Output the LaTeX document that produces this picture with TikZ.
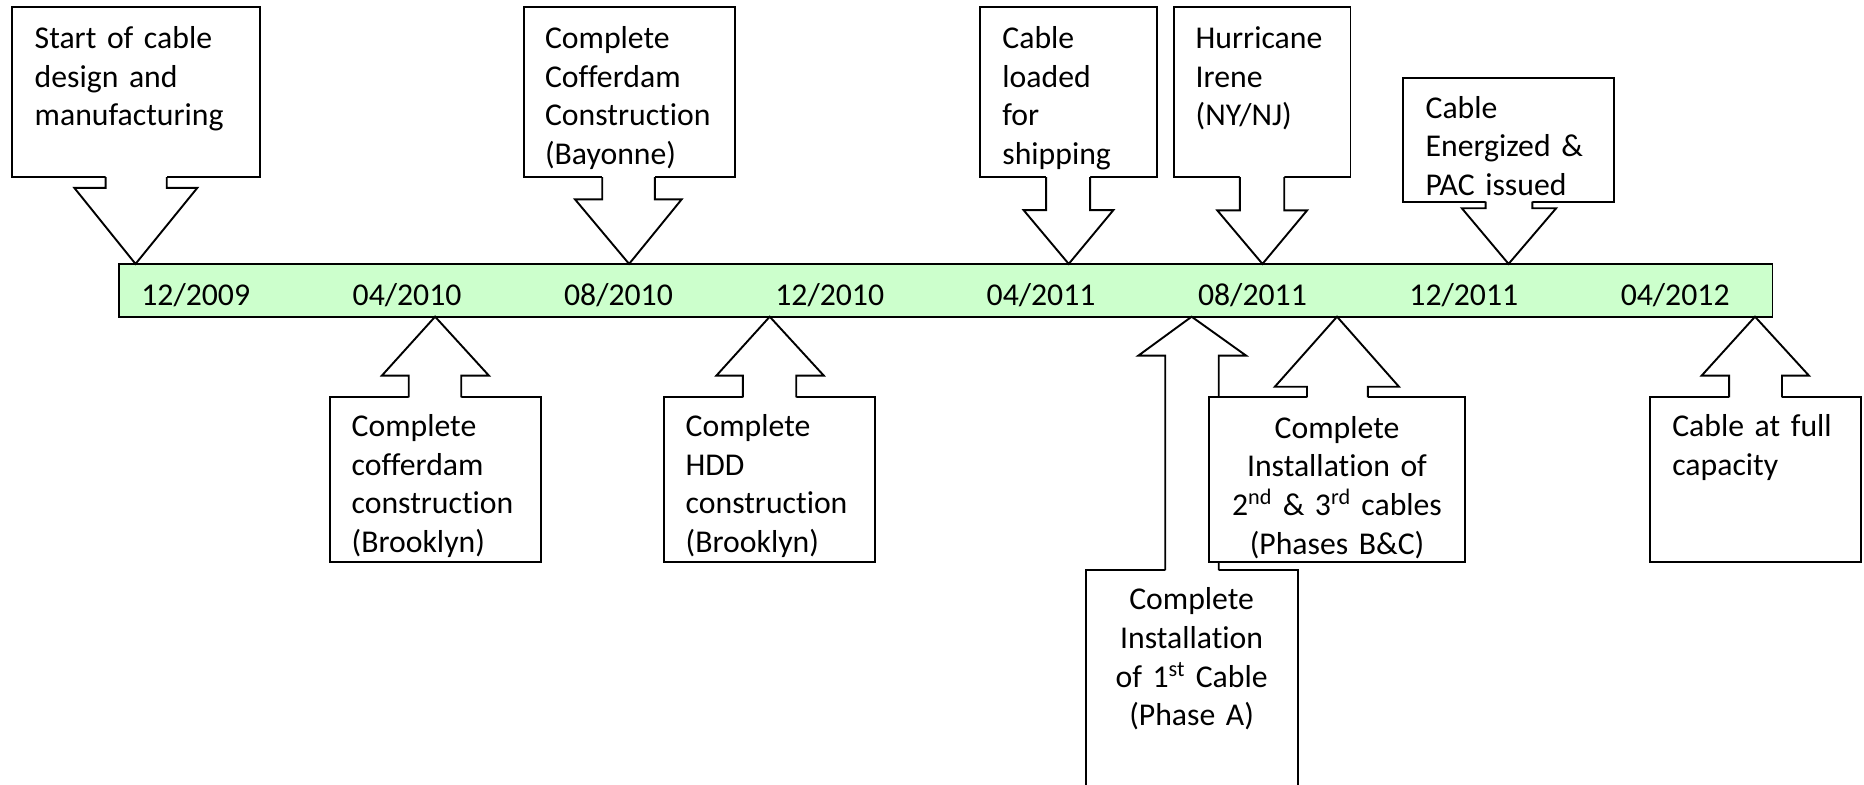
\documentclass[tikz,border=0pt]{standalone}
\usepackage{fontspec}
\setmainfont[Ligatures=NoCommon]{Carlito}
\definecolor{bargreen}{HTML}{CCFFCC}

% pointer of a callout: #1 box edge y, #2 inset y (inside the box), #3/#4 stem left/right,
% #5 y of the head base, #6/#7 head left/right, #8 tip coordinate
\newcommand{\calloutptr}[8]{%
  \fill[white] (#3,#2) -- (#3,#5) -- (#6,#5) -- (#8) -- (#7,#5) -- (#4,#5) -- (#4,#2) -- cycle;
  \draw[ptr] (#3,#1) -- (#3,#5) -- (#6,#5) -- (#8) -- (#7,#5) -- (#4,#5) -- (#4,#1);}

\begin{document}
\begin{tikzpicture}[x=1pt,y=-1pt,
  box/.style={draw, fill=white, line width=1.6pt, inner sep=0pt, outer sep=0pt, anchor=north west},
  ptr/.style={line width=1.6pt, line join=miter},
  txt/.style={font=\fontsize{26.7pt}{32.5pt}\selectfont, text width=260pt, align=left, inner sep=0pt, anchor=base west},
  ctxt/.style={txt, align=center, anchor=base},
  date/.style={font=\fontsize{26.7pt}{32pt}\selectfont, inner sep=0pt, anchor=base west}]
\useasboundingbox (0,0) rectangle (1568,660);
\clip (0,0) rectangle (1568,660);

% time bar
\node[draw, fill=bargreen, line width=1.6pt, inner sep=0pt, outer sep=0pt, anchor=north west,
      minimum width=1391pt, minimum height=44.4pt] (bar) at (100,222) {};
\node[date] (d1) at (118.7,256.6) {12/2009};
\node[date] (d2) at (296.5,256.6) {04/2010};
\node[date] (d3) at (474.3,256.6) {08/2010};
\node[date] (d4) at (652.0,256.6) {12/2010};
\node[date] (d5) at (829.8,256.6) {04/2011};
\node[date] (d6) at (1007.6,256.6) {08/2011};
\node[date] (d7) at (1185.4,256.6) {12/2011};
\node[date] (d8) at (1363.2,256.6) {04/2012};

% points on the bar the callouts aim at
\coordinate (pStart) at (114,222);
\coordinate (pBay) at (529.2,222);
\coordinate (pShip) at (899,222);
\coordinate (pIrene) at (1062,222);
\coordinate (pPAC) at (1269,222);
\coordinate (pBrook) at (366,266.4);
\coordinate (pHDD) at (647.5,266.4);
\coordinate (pPhA) at (1002.4,266.4);
\coordinate (pPhBC) at (1124.7,266.4);
\coordinate (pFull) at (1476.3,266.4);

% callouts above the bar
\node[box, minimum width=208.5pt, minimum height=143pt] (bStart) at (10,6) {};
\calloutptr{149}{146}{88.8}{140.3}{158}{62.5}{166}{pStart}
\node[box, minimum width=177.5pt, minimum height=143pt] (bBay) at (440.5,6) {};
\calloutptr{149}{146}{506.6}{550.9}{167.7}{483.7}{573.4}{pBay}
\node[box, minimum width=148.5pt, minimum height=143pt] (bShip) at (824.5,6) {};
\calloutptr{149}{146}{880}{917}{176.7}{861}{936.6}{pShip}
\node[box, minimum width=148.4pt, minimum height=143pt] (bIrene) at (987.6,6) {};
\calloutptr{149}{146}{1043}{1080.3}{177}{1024}{1099.5}{pIrene}
\node[box, minimum width=178pt, minimum height=104.3pt] (bPAC) at (1180,65.3) {};
\calloutptr{169.6}{166.6}{1249.7}{1289}{175.2}{1229.7}{1309}{pPAC}

% callouts below the bar
\node[box, minimum width=177.9pt, minimum height=138.3pt] (bBrook) at (277.3,334.2) {};
\calloutptr{334.2}{337.2}{343.8}{388}{316}{321.2}{411.3}{pBrook}
\node[box, minimum width=177.9pt, minimum height=138.3pt] (bHDD) at (558.4,334.2) {};
\calloutptr{334.2}{337.2}{624.9}{669.8}{316}{602.6}{693}{pHDD}
\node[box, minimum width=177.7pt, minimum height=138.3pt] (bFull) at (1387.7,334.2) {};
\calloutptr{334.2}{337.2}{1454.5}{1499}{316}{1431.4}{1521.7}{pFull}
\node[box, minimum width=177.8pt, minimum height=250pt] (bPhA) at (913.8,479.5) {};
\calloutptr{479.5}{482.5}{980.2}{1025.2}{299.2}{957.5}{1048.3}{pPhA}
\node[box, minimum width=215.3pt, minimum height=138.3pt] (bPhBC) at (1017.3,334.2) {};
\calloutptr{334.2}{337.2}{1099.4}{1150.6}{325.3}{1072.4}{1176.8}{pPhBC}

% callout texts
\node[txt] (tStart) at (29,40.7) {Start of cable\\design and\\manufacturing};
\node[txt] (tBay) at (458.3,40.7) {Complete\\Cofferdam\\Construction\\(Bayonne)};
\node[txt] (tShip) at (843,40.7) {Cable\\loaded\\for\\shipping};
\node[txt] (tIrene) at (1005.6,40.7) {Hurricane\\Irene\\(NY/NJ)};
\node[txt] (tPAC) at (1199,99.5) {Cable\\Energized \&\\PAC issued};
\node[txt] (tBrook) at (295.6,367.3) {Complete\\cofferdam\\construction\\(Brooklyn)};
\node[txt] (tHDD) at (576.6,367.3) {Complete\\HDD\\construction\\(Brooklyn)};
\node[ctxt] (tPhA) at (1002.4,513) {Complete\\Installation\\of 1\textsuperscript{st} Cable\\(Phase A)};
\node[ctxt] (tPhBC) at (1124.7,368.7) {Complete\\Installation of\\2\textsuperscript{nd} \& 3\textsuperscript{rd} cables\\(Phases B\&C)};
\node[txt] (tFull) at (1406.5,367.3) {Cable at full\\capacity};
\end{tikzpicture}
\end{document}
